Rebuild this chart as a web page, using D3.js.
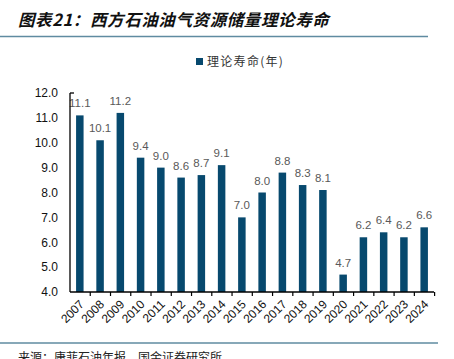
<!DOCTYPE html>
<meta charset='utf-8'>
<head>
<script src='https://d3js.org/d3.v7.min.js'></script>
<style>
  body{ margin: 0; background: #fff; }
  svg{ display: block; }
  text{ font-family: Arial, 'Liberation Sans', 'Noto Sans CJK SC', sans-serif; }
</style>
</head>
<body>
<svg id="chart" width="454" height="359"></svg>
<script>

  var years = ['2007','2008','2009','2010','2011','2012','2013','2014','2015',
               '2016','2017','2018','2019','2020','2021','2022','2023','2024'];
  var lifeValues = [11.1, 10.1, 11.2, 9.4, 9.0, 8.6, 8.7, 9.1, 7.0,
                    8.0, 8.8, 8.3, 8.1, 4.7, 6.2, 6.4, 6.2, 6.6];
  var yTicks = [4, 5, 6, 7, 8, 9, 10, 11, 12];
  var seriesName = '理论寿命(年)';
  var titleText = '图表21：西方石油油气资源储量理论寿命';
  var sourceText = '来源：康菲石油年报，国金证券研究所';

  var data = years.map(function(d, i) { return {year: d, value: lifeValues[i]}; });

  var barColor = '#07496e',
      ruleColor = '#5f8ba1';

  var plot = {left: 70, right: 434, top: 93, bottom: 292};

  var svg = d3.select('#chart');

  // Title
  svg.append('text')
    .attr('x', 18)
    .attr('y', 26)
    .style('font-family', "'Noto Sans CJK SC', sans-serif")
    .style('font-size', '16.5px')
    .style('font-weight', 'bold')
    .style('font-style', 'italic')
    .style('letter-spacing', '0.6px')
    .style('fill', '#111')
    .text(titleText);

  svg.append('line')
    .attr('x1', 0).attr('x2', 428)
    .attr('y1', 36.5).attr('y2', 36.5)
    .attr('stroke', ruleColor)
    .attr('stroke-width', 1.6);

  // Legend
  var legend = svg.append('g').attr('transform', 'translate(196,58)');
  legend.append('rect')
    .attr('width', 7).attr('height', 7)
    .attr('fill', barColor);
  legend.append('text')
    .attr('x', 11)
    .attr('y', 4)
    .attr('dy', '.35em')
    .style('font-family', "'Noto Sans CJK SC', sans-serif")
    .style('font-size', '12px')
    .style('letter-spacing', '1.3px')
    .style('fill', '#333')
    .text(seriesName);

  var x = d3.scaleBand()
    .domain(years)
    .range([plot.left, plot.right])
    .paddingInner(0.63)
    .paddingOuter(0.3);

  var y = d3.scaleLinear()
    .domain([4, 12])
    .range([plot.bottom, plot.top]);

  var g = svg.append('g');

  // Bars
  g.selectAll('.bar')
    .data(data)
    .enter().append('rect')
      .attr('class', 'bar')
      .attr('x', function(d) { return x(d.year); })
      .attr('y', function(d) { return y(d.value); })
      .attr('width', x.bandwidth())
      .attr('height', function(d) { return y(4) - y(d.value); })
      .attr('fill', barColor);

  // Value labels
  g.selectAll('.val')
    .data(data)
    .enter().append('text')
      .attr('class', 'val')
      .attr('x', function(d) { return x(d.year) + x.bandwidth() / 2; })
      .attr('y', function(d) { return y(d.value) - 8; })
      .attr('text-anchor', 'middle')
      .style('font-size', '11.5px')
      .style('fill', '#595959')
      .text(function(d) { return d.value.toFixed(1); });

  // Y axis
  var yAxis = d3.axisLeft(y)
    .tickValues(yTicks)
    .tickSize(0)
    .tickPadding(12)
    .tickFormat(d3.format('.1f'));

  var yG = svg.append('g')
    .attr('transform', 'translate(' + plot.left + ',0)')
    .call(yAxis);
  yG.select('.domain').remove();
  yG.selectAll('text')
    .style('font-size', '12px')
    .style('font-family', 'Arial, sans-serif')
    .style('fill', '#111');

  svg.append('line')
    .attr('x1', plot.left).attr('x2', plot.left)
    .attr('y1', y(12)).attr('y2', y(4))
    .attr('stroke', '#000').attr('stroke-width', 1.3);
  svg.append('line')
    .attr('x1', plot.left).attr('x2', plot.left + 4)
    .attr('y1', y(12)).attr('y2', y(12))
    .attr('stroke', '#000').attr('stroke-width', 1.3);

  // X axis
  var step = x.step();
  var boundaries = d3.range(years.length + 1).map(function(i) { return plot.left + i * step; });

  svg.append('line')
    .attr('x1', plot.left).attr('x2', plot.right)
    .attr('y1', y(4)).attr('y2', y(4))
    .attr('stroke', '#000').attr('stroke-width', 1.3);

  svg.selectAll('.xtick')
    .data(boundaries.slice(1))
    .enter().append('line')
      .attr('class', 'xtick')
      .attr('x1', function(d) { return d; })
      .attr('x2', function(d) { return d; })
      .attr('y1', y(4)).attr('y2', y(4) + 4)
      .attr('stroke', '#000').attr('stroke-width', 1.2);

  svg.selectAll('.xlab')
    .data(years)
    .enter().append('text')
      .attr('class', 'xlab')
      .attr('transform', function(d) {
        return 'translate(' + (x(d) + x.bandwidth() / 2 + 2) + ',' + (y(4) + 10) + ') rotate(-45)';
      })
      .attr('text-anchor', 'end')
      .attr('dy', '.35em')
      .style('font-size', '12px')
      .style('fill', '#111')
      .text(function(d) { return d; });

  // Source
  svg.append('line')
    .attr('x1', 0).attr('x2', 438)
    .attr('y1', 343).attr('y2', 343)
    .attr('stroke', ruleColor)
    .attr('stroke-width', 1.6);

  svg.append('text')
    .attr('x', 18)
    .attr('y', 362)
    .style('font-family', "'Noto Sans CJK SC', sans-serif")
    .style('font-size', '12px')
    .style('fill', '#222')
    .text(sourceText);

</script>
</body>
</html>
